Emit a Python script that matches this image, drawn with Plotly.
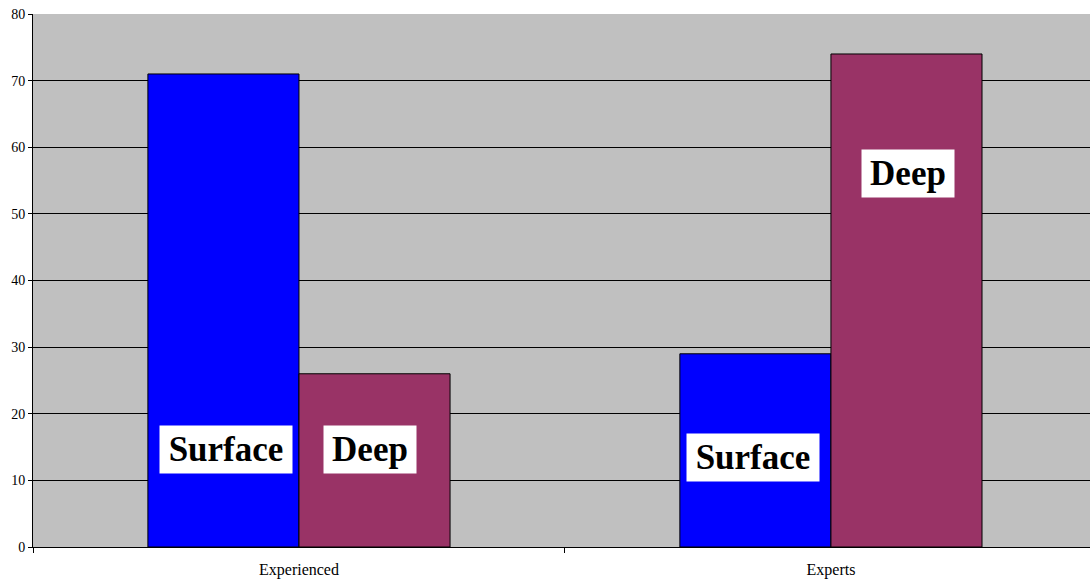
import plotly.graph_objects as go

categories = ["Experienced", "Experts"]
surface = [71, 29]
deep = [26, 74]
series_names = ["Surface", "Deep"]
label_y = {"Surface": [14.6, 13.4], "Deep": [14.6, 56.1]}
y_ticks = [0, 10, 20, 30, 40, 50, 60, 70, 80]

SERIF = "Liberation Serif, Times New Roman, serif"
bargap = 0.432
bar_w = (1 - bargap) / 2
box_w = {"Surface": 124, "Deep": 84}
label_dx = {"Surface": [0.005, -0.004], "Deep": [-0.008, 0.002]}

fig = go.Figure()
fig.add_trace(go.Bar(x=categories, y=surface, name="Surface",
                     marker=dict(color="#0000FF", line=dict(color="#000000", width=1))))
fig.add_trace(go.Bar(x=categories, y=deep, name="Deep",
                     marker=dict(color="#993366", line=dict(color="#000000", width=1))))

annotations = []
for si, name in enumerate(series_names):
    offset = (-0.5 + si) * bar_w
    for ci, cat in enumerate(categories):
        annotations.append(dict(
            x=ci + offset + label_dx[name][ci], y=label_y[name][ci], xref="x", yref="y",
            text="<b>%s</b>" % name, showarrow=False, width=box_w[name],
            font=dict(family=SERIF, size=35, color="#000000"),
            bgcolor="#FFFFFF", borderpad=4, xanchor="center", yanchor="middle"))

fig.update_layout(
    width=1090, height=579,
    margin=dict(l=33, r=0, t=14, b=32),
    paper_bgcolor="#FFFFFF", plot_bgcolor="#C0C0C0",
    barmode="group", bargap=bargap, bargroupgap=0,
    showlegend=False,
    annotations=annotations,
    font=dict(family=SERIF, color="#000000"),
)
fig.update_xaxes(showline=True, linecolor="#000000", linewidth=1,
                 ticks="outside", tickson="boundaries", ticklen=5, tickcolor="#000000",
                 tickfont=dict(family=SERIF, size=16, color="#000000"),
                 ticklabelstandoff=8,
                 showgrid=False, range=[-0.5, 1.487])
fig.update_yaxes(range=[0, 80], tickvals=y_ticks, showline=True, linecolor="#000000",
                 linewidth=1, ticks="outside", ticklen=4, tickcolor="#000000",
                 tickfont=dict(family=SERIF, size=14, color="#000000"),
                 showgrid=True, gridcolor="#000000", gridwidth=1, zeroline=False)

fig.write_html("out.html", config={"displayModeBar": False},
               post_script="document.body.style.margin='0';document.body.style.padding='0';")
